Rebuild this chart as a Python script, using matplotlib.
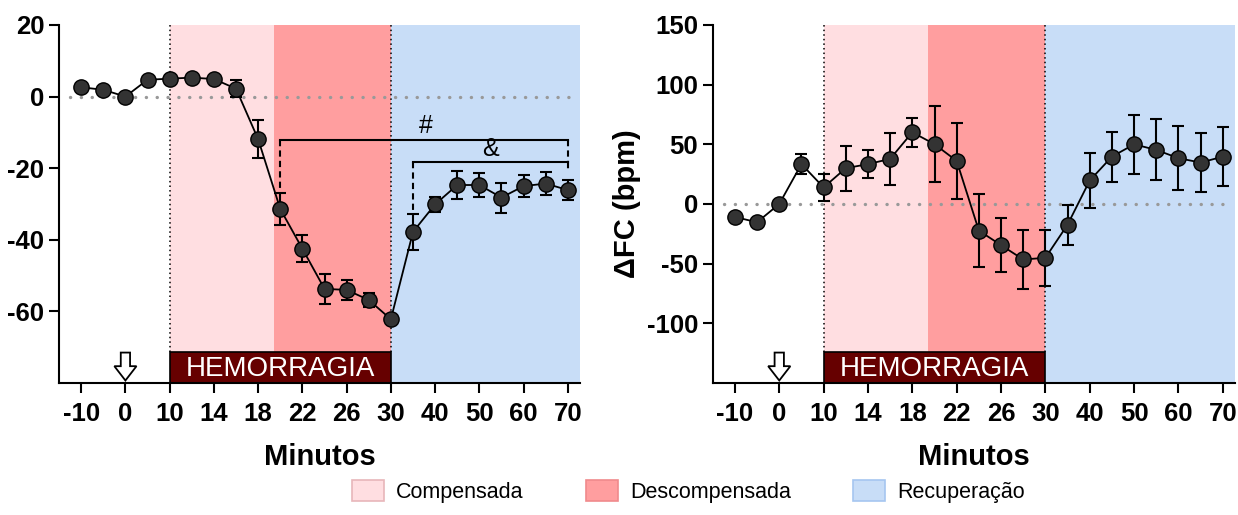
import matplotlib
matplotlib.use("Agg")
import matplotlib.pyplot as plt
import matplotlib.transforms as mtransforms
from matplotlib.patches import Patch, Rectangle, FancyArrow
import numpy as np

plt.rcParams["font.family"] = ["Liberation Sans", "DejaVu Sans"]
plt.rcParams["axes.unicode_minus"] = False

# ── data ──────────────────────────────────────────────────────────────────
minutes = [-10, -5, 0, 5, 10, 12, 14, 16, 18, 20, 22, 24, 26, 28, 30,
           35, 40, 45, 50, 55, 60, 65, 70]
tick_labels = ["-10", "0", "10", "14", "18", "22", "26", "30",
               "40", "50", "60", "70"]

pam_mean = [2.6, 1.9, 0.0, 4.7, 5.0, 5.3, 4.9, 2.2, -11.9, -31.4, -42.5,
            -53.7, -54.0, -56.8, -62.2, -37.8, -30.1, -24.7, -24.7, -28.2,
            -25.0, -24.3, -26.1]
pam_err = [0, 0, 0, 0, 0, 0, 0, 2.3, 5.3, 4.6, 3.7, 4.1, 2.7, 2.0, 0,
           5.0, 2.0, 3.8, 3.3, 4.2, 3.1, 3.1, 2.8]

fc_mean = [-10.9, -15.3, 0.0, 33.4, 13.9, 30.0, 33.4, 37.8, 60.1, 50.1,
           36.1, -22.3, -34.5, -46.5, -45.1, -17.3, 19.7, 39.7, 50.0, 45.3,
           38.4, 34.7, 39.7]
fc_err = [0, 0, 0, 8.5, 11.4, 19.0, 12.0, 21.5, 12.0, 32.0, 32.0, 30.6,
          22.8, 25.0, 23.6, 16.7, 23.0, 21.0, 24.5, 25.6, 27.0, 24.5, 24.8]

# phase limits (in plotted position units)
comp_start, comp_end, rec_start = 4, 8.7, 14

LIGHT_PINK = "#FFDEE1"
DARK_PINK = "#FF9E9F"
BLUE = "#C8DDF7"
HEM = "#660000"

x = np.arange(len(minutes))


def draw_panel(ax, mean, err, ylim, yticks):
    ax.set_xlim(-1, 22.55)
    ax.set_ylim(*ylim)

    ax.axvspan(comp_start, comp_end, color=LIGHT_PINK, lw=0, zorder=0)
    ax.axvspan(comp_end, rec_start, color=DARK_PINK, lw=0, zorder=0)
    ax.axvspan(rec_start, 22.55, color=BLUE, lw=0, zorder=0)

    box_h = 0.087
    for xv in (comp_start, rec_start):
        ax.axvline(xv, ymin=box_h, ymax=1, color="black", lw=1.1,
                   ls=(0, (1, 2)), zorder=1)

    ax.plot([-0.5, 22.2], [0, 0], color="#999999", lw=2.4,
            ls=(0, (0.05, 3.2)), dash_capstyle="round", zorder=1)

    trans = mtransforms.blended_transform_factory(ax.transData, ax.transAxes)
    ax.add_patch(Rectangle((comp_start, 0), rec_start - comp_start, box_h,
                           transform=trans, facecolor=HEM, edgecolor="black",
                           lw=1.2, zorder=2))
    ax.text((comp_start + rec_start) / 2, box_h / 2 - 0.004, "HEMORRAGIA",
            transform=trans, ha="center", va="center", color="white",
            fontsize=20, zorder=3)
    ax.add_patch(FancyArrow(2, 0.085, 0, -0.078, width=0.42, head_width=1.0,
                            head_length=0.04, length_includes_head=True,
                            transform=trans, facecolor="white",
                            edgecolor="black", lw=1.3, zorder=3))

    ax.errorbar(x, mean, yerr=err, fmt="none", ecolor="black", elinewidth=1.5,
                capsize=4, capthick=1.5, zorder=4)
    ax.plot(x, mean, color="black", lw=1.3, marker="o", markersize=11,
            markerfacecolor="#333333", markeredgecolor="black",
            markeredgewidth=1.0, zorder=5)

    ax.set_xticks(x[::2])
    ax.set_xticklabels(tick_labels)
    ax.set_yticks(yticks)
    ax.tick_params(axis="both", labelsize=18.5, width=1.5, length=7,
                   direction="out")
    ax.tick_params(axis="x", pad=7)
    for lab in ax.get_xticklabels() + ax.get_yticklabels():
        lab.set_fontweight("bold")
    ax.spines["top"].set_visible(False)
    ax.spines["right"].set_visible(False)
    ax.spines["left"].set_linewidth(1.5)
    ax.spines["bottom"].set_linewidth(1.5)
    ax.set_xlabel("Minutos", fontsize=21, fontweight="bold", labelpad=12)


fig = plt.figure(figsize=(12.38, 5.15), dpi=100)
ax1 = fig.add_axes([0.0477, 0.2563, 0.4208, 0.6952])
ax2 = fig.add_axes([0.5757, 0.2563, 0.4219, 0.6952])

draw_panel(ax1, pam_mean, pam_err, (-80, 20), [20, 0, -20, -40, -60])
draw_panel(ax2, fc_mean, fc_err, (-150, 150), [150, 100, 50, 0, -50, -100])
ax2.set_ylabel("ΔFC (bpm)", fontsize=21, fontweight="bold", labelpad=4)

# significance brackets (left panel)
y_hash, y_amp = -12.1, -18.4
ax1.plot([9, 22], [y_hash, y_hash], color="black", lw=1.5, zorder=6)
ax1.plot([9, 9], [y_hash, -26.5], color="black", lw=1.5, ls=(0, (3, 2)),
         zorder=6)
ax1.plot([22, 22], [y_hash, y_amp], color="black", lw=1.5, ls=(0, (3, 2)),
         zorder=6)
ax1.text(15.6, y_hash + 0.5, "#", ha="center", va="bottom", fontsize=18,
         zorder=6)
ax1.plot([15, 22], [y_amp, y_amp], color="black", lw=1.5, zorder=6)
ax1.plot([15, 15], [y_amp, -32.6], color="black", lw=1.5, ls=(0, (3, 2)),
         zorder=6)
ax1.plot([22, 22], [y_amp, -20.3], color="black", lw=1.5, ls=(0, (3, 2)),
         zorder=6)
ax1.text(18.5, y_amp + 0.5, "&", ha="center", va="bottom", fontsize=18,
         zorder=6)

handles = [
    Patch(facecolor=LIGHT_PINK, edgecolor="#E8B6BA", lw=1.2, label="Compensada"),
    Patch(facecolor=DARK_PINK, edgecolor="#F08A8C", lw=1.2, label="Descompensada"),
    Patch(facecolor=BLUE, edgecolor="#A6C6F0", lw=1.2, label="Recuperação"),
]
fig.legend(handles=handles, loc="lower center", bbox_to_anchor=(0.556, -0.014),
           ncol=3, frameon=False, fontsize=15.5, handlelength=1.5,
           handleheight=1.15, handletextpad=0.55, columnspacing=2.9)

fig.savefig("out.png", dpi=100)
